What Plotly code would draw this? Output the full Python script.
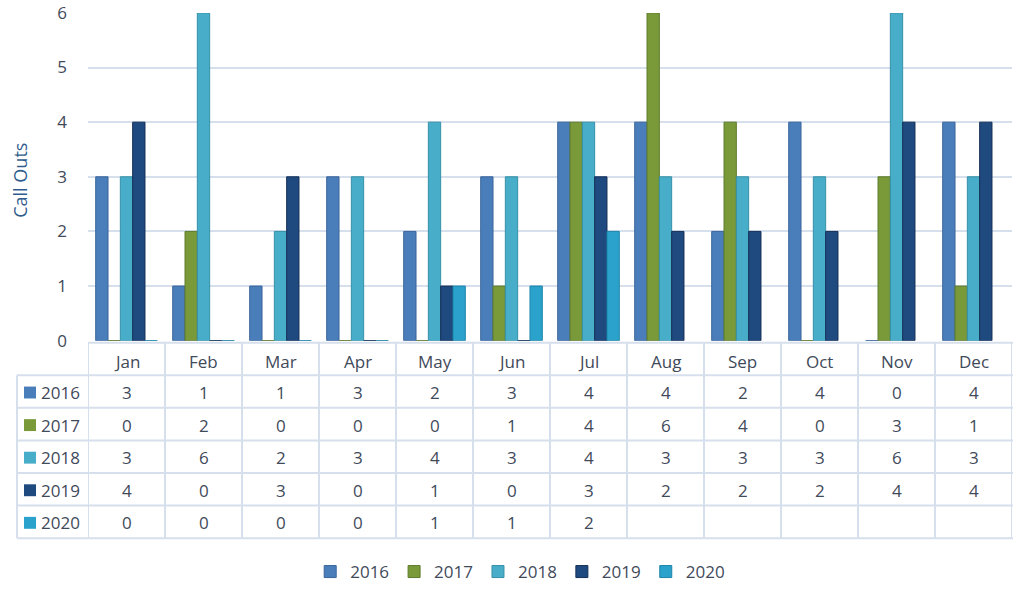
import plotly.graph_objects as go

months = ["Jan", "Feb", "Mar", "Apr", "May", "Jun", "Jul", "Aug", "Sep", "Oct", "Nov", "Dec"]
years = ["2016", "2017", "2018", "2019", "2020"]
v2016 = [3, 1, 1, 3, 2, 3, 4, 4, 2, 4, 0, 4]
v2017 = [0, 2, 0, 0, 0, 1, 4, 6, 4, 0, 3, 1]
v2018 = [3, 6, 2, 3, 4, 3, 4, 3, 3, 3, 6, 3]
v2019 = [4, 0, 3, 0, 1, 0, 3, 2, 2, 2, 4, 4]
v2020 = [0, 0, 0, 0, 1, 1, 2]
y_ticks = [0, 1, 2, 3, 4, 5, 6]

series = [v2016, v2017, v2018, v2019, v2020]
colors = ["#4A7EBB", "#7A9A3A", "#48ADC8", "#1F4A80", "#2AA2CC"]
edge = ["#3A659A", "#5E7A2A", "#3590A8", "#142F55", "#1D84A8"]

W, H = 1020, 590
px = lambda v: v / W
py = lambda v: 1 - v / H

text_col = "#3F4A5A"
grid_col = "#D6DFEC"
FONT = "Open Sans, Lato, sans-serif"
FS = 17

fig = go.Figure()
for yr, vals, c, e in zip(years, series, colors, edge):
    fig.add_trace(go.Bar(
        x=months[:len(vals)], y=vals, name=yr,
        marker=dict(color=c, line=dict(color=e, width=1)),
        hoverinfo="skip",
    ))

# ---- data table under the month columns (shapes + annotations) ----
tbl_left, axis_left, tbl_right = 17, 88, 1013
hdr_top, row_h = 345, 32.8
n_rows = len(years)
row_edges = [hdr_top + k * row_h for k in range(n_rows + 2)]
tbl_bottom = row_edges[-1]

shapes = []
line = dict(color=grid_col, width=2)
for k, yv in enumerate(row_edges):
    x0 = axis_left if k == 0 else tbl_left
    shapes.append(dict(type="line", xref="paper", yref="paper",
                       x0=px(x0), x1=px(tbl_right), y0=py(yv), y1=py(yv), line=line))
shapes.append(dict(type="line", xref="paper", yref="paper",
                   x0=px(tbl_left), x1=px(tbl_left), y0=py(row_edges[1]), y1=py(tbl_bottom), line=line))
for i in range(len(months) + 1):
    shapes.append(dict(type="line", xref="x", yref="paper",
                       x0=i - 0.5, x1=i - 0.5, y0=py(hdr_top), y1=py(tbl_bottom), line=line))

annotations = []
for i, m in enumerate(months):
    annotations.append(dict(x=m, xref="x", y=py(hdr_top + row_h / 2 + 3), yref="paper",
                            text=m, showarrow=False, xanchor="center", yanchor="middle",
                            font=dict(family=FONT, size=FS, color=text_col)))
for r, (yr, vals, c) in enumerate(zip(years, series, colors)):
    ycpx = row_edges[r + 1] + row_h / 2
    yc = py(ycpx + 1)
    shapes.append(dict(type="rect", xref="paper", yref="paper",
                       x0=px(24), x1=px(36), y0=py(ycpx - 5), y1=py(ycpx + 7),
                       fillcolor=c, line=dict(width=0)))
    annotations.append(dict(x=px(39), xref="paper", y=yc, yref="paper",
                            text=yr, showarrow=False, xanchor="left", yanchor="middle",
                            font=dict(family=FONT, size=FS, color=text_col)))
    for i, v in enumerate(vals):
        annotations.append(dict(x=months[i], xref="x", y=yc, yref="paper",
                                text=str(v), showarrow=False, xanchor="center", yanchor="middle",
                                font=dict(family=FONT, size=FS, color=text_col)))

# y-axis title
annotations.append(dict(x=px(20), xref="paper", y=py(182), yref="paper", text="Call Outs",
                        textangle=-90, showarrow=False, xanchor="center", yanchor="middle",
                        font=dict(family=FONT, size=18, color="#2F5C8C")))

fig.update_layout(
    width=W, height=H,
    margin=dict(l=0, r=0, t=0, b=0),
    paper_bgcolor="white", plot_bgcolor="white",
    barmode="group", bargap=0.2, bargroupgap=0.0,
    font=dict(family=FONT, size=FS, color=text_col),
    xaxis=dict(
        domain=[px(axis_left), px(1012)],
        anchor="y", automargin=False,
        categoryorder="array", categoryarray=months,
        range=[-0.5, 11.5],
        showticklabels=False, showgrid=False, zeroline=False, showline=False,
    ),
    yaxis=dict(
        domain=[py(343), py(13)],
        range=[0, 6], tickvals=y_ticks, automargin=False,
        showgrid=True, gridcolor=grid_col, gridwidth=2,
        zeroline=False, showline=False, ticks="",
        ticklabelstandoff=20,
        tickfont=dict(family=FONT, size=FS, color=text_col),
    ),
    legend=dict(
        orientation="h", x=0.51, xanchor="center", y=py(576), yanchor="middle",
        font=dict(family=FONT, size=FS, color=text_col),
        itemwidth=30, traceorder="normal",
    ),
    shapes=shapes,
    annotations=annotations,
    showlegend=True,
)

fig.write_html("out.html", config={"displayModeBar": False},
               post_script="document.body.style.margin='0';")
